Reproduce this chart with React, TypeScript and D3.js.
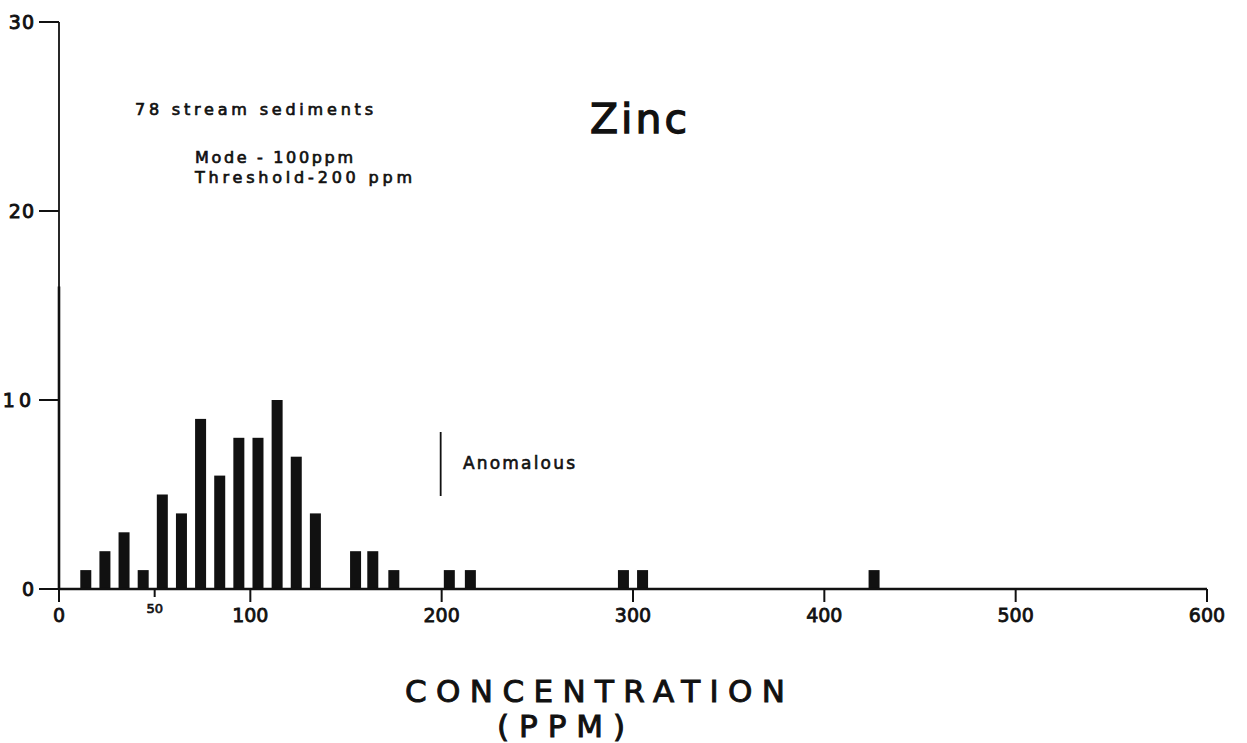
import React from "react";
import * as d3 from "d3";

// Bin positions (ppm) and counts
const binCenters = [14, 24, 34, 44, 54, 64, 74, 84, 94, 104, 114, 124, 134, 155, 164, 175, 204, 215, 295, 305, 426];
const counts = [1, 2, 3, 1, 5, 4, 9, 6, 8, 8, 10, 7, 4, 2, 2, 1, 1, 1, 1, 1, 1];

const xTicks = [0, 50, 100, 200, 300, 400, 500, 600];
const yTicks = [0, 10, 20, 30];

const W = 1247;
const H = 743;
const FONT = "'DejaVu Sans', 'Liberation Sans', sans-serif";
const INK = "#111";

export default function App() {
  const x = d3.scaleLinear().domain([0, 600]).range([59, 1207]);
  const y = d3.scaleLinear().domain([0, 30]).range([589, 22]);
  const barW = 11;

  const txt = (sw: number) => ({
    fontFamily: FONT,
    fill: INK,
    stroke: INK,
    strokeWidth: sw,
  });

  return (
    <svg
      width={W}
      height={H}
      viewBox={`0 0 ${W} ${H}`}
      style={{ position: "absolute", left: 0, top: 0, background: "#fff" }}
    >
      <rect x={0} y={0} width={W} height={H} fill="#fff" />
      {/* bars */}
      {binCenters.map((c, i) => (
        <rect
          key={i}
          x={x(c) - barW / 2}
          y={y(counts[i])}
          width={barW}
          height={y(0) - y(counts[i])}
          fill={INK}
        />
      ))}
      {/* y axis */}
      <line x1={x(0)} x2={x(0)} y1={y(30)} y2={y(0)} stroke={INK} strokeWidth={1.8} />
      <line x1={x(0)} x2={x(0)} y1={y(16)} y2={y(0)} stroke={INK} strokeWidth={2.6} />
      {yTicks.map((t) => (
        <g key={t}>
          <line x1={39} x2={x(0)} y1={y(t)} y2={y(t)} stroke={INK} strokeWidth={2} />
          <text
            x={35}
            y={y(t) + 7}
            textAnchor="end"
            fontSize={19}
            letterSpacing={t === 10 ? 4 : 1}
            {...txt(0.9)}
          >
            {t}
          </text>
        </g>
      ))}
      {/* x axis */}
      <line x1={x(0)} x2={x(600)} y1={y(0)} y2={y(0)} stroke={INK} strokeWidth={2.4} />
      {xTicks.map((t) => (
        <g key={t}>
          <line
            x1={x(t)}
            x2={x(t)}
            y1={y(0)}
            y2={y(0) + (t === 50 ? 8 : 13)}
            stroke={INK}
            strokeWidth={2}
          />
          <text
            x={x(t)}
            y={t === 50 ? 613 : 622}
            textAnchor="middle"
            fontSize={t === 50 ? 13 : 19}
            {...txt(t === 50 ? 0.7 : 0.8)}
          >
            {t}
          </text>
        </g>
      ))}
      {/* annotations */}
      <text x={135} y={115} fontSize={16} textLength={238} lengthAdjust="spacing" {...txt(0.7)}>
        78 stream sediments
      </text>
      <text x={195} y={163} fontSize={16} textLength={158} lengthAdjust="spacing" {...txt(0.7)}>
        Mode - 100ppm
      </text>
      <text x={195} y={183} fontSize={16} textLength={217} lengthAdjust="spacing" {...txt(0.7)}>
        Threshold-200 ppm
      </text>
      <text x={590} y={133} fontSize={41} textLength={97} lengthAdjust="spacing" {...txt(1.3)}>
        Zinc
      </text>
      <line x1={x(200) - 1} x2={x(200) - 1} y1={432} y2={496} stroke={INK} strokeWidth={1.8} />
      <text x={463} y={469} fontSize={17} textLength={112} lengthAdjust="spacing" {...txt(0.6)}>
        Anomalous
      </text>
      <text x={405} y={702} fontSize={31} textLength={380} lengthAdjust="spacing" {...txt(1)}>
        CONCENTRATION
      </text>
      <text x={497} y={737} fontSize={31} textLength={128} lengthAdjust="spacing" {...txt(1)}>
        (PPM)
      </text>
    </svg>
  );
}
